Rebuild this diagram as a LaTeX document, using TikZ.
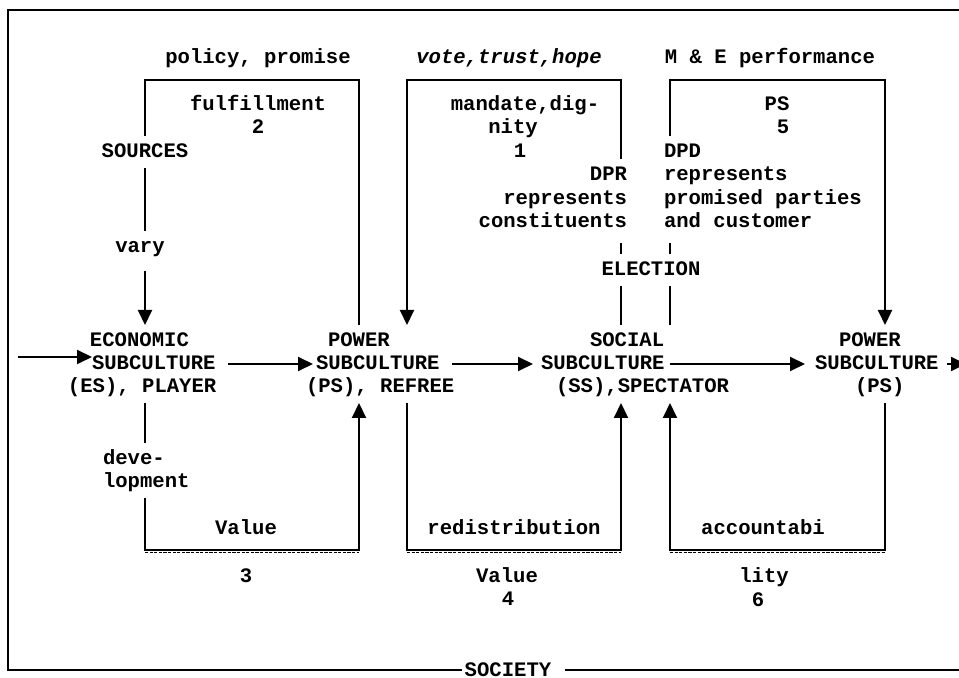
\documentclass[tikz,border=0pt]{standalone}
\usepackage{fontspec}
\setmonofont{Liberation Mono}
\usetikzlibrary{arrows.meta}
\begin{document}
\begin{tikzpicture}[x=0.5pt,y=-0.5pt,
  line width=1pt,
  txt/.style={inner sep=0pt, outer xsep=0pt, outer ysep=5pt,
    text height=6pt, text depth=0pt,
    font=\ttfamily\bfseries\fontsize{10.3}{12}\selectfont},
  itxt/.style={txt, font=\ttfamily\bfseries\itshape\fontsize{10.3}{12}\selectfont},
  flow/.style={-{Triangle[length=7.5pt,width=7pt]}},
  under/.style={line width=0.5pt, dash pattern=on 1.6pt off 0.7pt}]
\useasboundingbox (0,0) rectangle (959,678);
\fill[white] (0,0) rectangle (959,678);

% ---- top labels
\node[txt]  (pol) at (258,58) {policy, promise};
\node[itxt] (vth) at (509,58) {vote,trust,hope};
\node[txt]  (me)  at (770,58) {M \& E performance};

\node[txt] (ful) at (258,105) {fulfillment};
\node[txt] (n2)  at (258,128) {2};
\node[txt] (src) at (145,152) {SOURCES};
\node[txt] (vary) at (140,247) {vary};

\node[txt] (man)  at (525,105) {mandate,dig-};
\node[txt] (nity) at (513,128) {nity};
\node[txt] (n1)   at (520,152) {1};

\node[txt] (psl) at (777,105) {PS};
\node[txt] (n5)  at (783,128) {5};

% ---- representation texts
\node[txt, anchor=east] (dpr1) at (627,175) {DPR};
\node[txt, anchor=east] (dpr2) at (627,199) {represents};
\node[txt, anchor=east] (dpr3) at (627,222) {constituents};

\node[txt, anchor=west] (dpd1) at (664,152) {DPD};
\node[txt, anchor=west] (dpd2) at (664,175) {represents};
\node[txt, anchor=west] (dpd3) at (664,199) {promised parties};
\node[txt, anchor=west] (dpd4) at (664,222) {and customer};

\node[txt] (elec) at (651,270) {ELECTION};

% ---- subcultures
\node[txt, anchor=west] (es1) at (90,341)  {ECONOMIC};
\node[txt, anchor=west] (es2) at (92,364)  {SUBCULTURE};
\node[txt, anchor=west] (es3) at (68,387)  {(ES), PLAYER};

\node[txt, anchor=west] (ps1a) at (328,341) {POWER};
\node[txt, anchor=west] (ps1b) at (316,364) {SUBCULTURE};
\node[txt, anchor=west] (ps1c) at (306,387) {(PS), REFREE};

\node[txt, anchor=west] (ss1) at (590,341) {SOCIAL};
\node[txt, anchor=west] (ss2) at (541,364) {SUBCULTURE};
\node[txt, anchor=west] (ss3) at (556,387) {(SS),SPECTATOR};

\node[txt, anchor=west] (ps2a) at (839,341) {POWER};
\node[txt, anchor=west] (ps2b) at (815,364) {SUBCULTURE};
\node[txt, anchor=west] (ps2c) at (855,387) {(PS)};

% ---- bottom labels
\node[txt, anchor=west] (dev1) at (103,459) {deve-};
\node[txt, anchor=west] (dev2) at (103,482) {lopment};

\node[txt] (val3) at (246,529) {Value};
\node[txt] (n3)   at (246,576) {3};
\node[txt] (red)  at (514,529) {redistribution};
\node[txt] (val4) at (507,576) {Value};
\node[txt] (n4)   at (508,599) {4};
\node[txt] (acc)  at (763,529) {accountabi};
\node[txt] (lity) at (764,576) {lity};
\node[txt] (n6)   at (758,600) {6};

\node[txt] (soc) at (508,670) {SOCIETY};

% ---- corner points of the loops
\coordinate (c2L) at (145,80); \coordinate (c2R) at (359,80);
\coordinate (c1L) at (407,80); \coordinate (c1R) at (621,80);
\coordinate (c5L) at (670,80); \coordinate (c5R) at (885,80);
\coordinate (c3L) at (145,550); \coordinate (c3R) at (359,550);
\coordinate (c4L) at (407,550); \coordinate (c4R) at (621,550);
\coordinate (c6L) at (670,550); \coordinate (c6R) at (885,550);

% loop 2: policy, promise
\draw (src.north -| c2L) -- (c2L) -- (c2R) -- (ps1a.north -| c2R);
\draw (src.south -| c2L) -- (vary.north -| c2L);
\draw[flow] ([yshift=-4pt]vary.south -| c2L) -- (es1.north -| c2L);

% loop 1: vote, trust, hope
\draw[flow] (dpr1.north -| c1R) -- (c1R) -- (c1L) -- (ps1a.north -| c1L);

% loop 5: M & E performance
\draw[flow] (dpd1.north -| c5L) -- (c5L) -- (c5R) -- (ps2a.north -| c5R);

% election links
\draw[shorten <=2.5pt] (dpr3.south -| c1R) -- (elec.north -| c1R);
\draw (elec.south -| c1R) -- (ss1.north -| c1R);
\draw[shorten <=2.5pt] (dpd4.south -| c5L) -- (elec.north -| c5L);
\draw (elec.south -| c5L) -- (ss1.north -| c5L);

% loop 3: development / value
\draw (es3.south -| c3L) -- (dev1.north -| c3L);
\draw[flow] (dev2.south -| c3L) -- (c3L) -- (c3R) -- (ps1c.south -| c3R);
\draw[under] ([yshift=-1.5pt]c3L) -- ([yshift=-1.5pt]c3R);

% loop 4: redistribution
\draw[flow] (ps1c.south -| c4L) -- (c4L) -- (c4R) -- (ss3.south -| c4R);
\draw[under] ([yshift=-1.5pt]c4L) -- ([yshift=-1.5pt]c4R);

% loop 6: accountability
\draw[flow] (ps2c.south -| c6R) -- (c6R) -- (c6L) -- (ss3.south -| c6L);
\draw[under] ([yshift=-1.5pt]c6L) -- ([yshift=-1.5pt]c6R);

% ---- main chain
\coordinate (inL) at (18,357);
\coordinate (outR) at (966,364);
\draw[flow] (inL) -- (inL -| es2.west);
\draw[flow, shorten <=6pt, shorten >=1.5pt] (es2.east) -- (ps1b.west);
\draw[flow, shorten <=6pt, shorten >=4pt] (ps1b.east) -- (ss2.west);
\draw[flow, shorten <=2.5pt, shorten >=5pt] (ss2.east) -- (ps2b.west);
\draw[flow, shorten <=4pt] (ps2b.east) -- (outR);

% ---- society frame
\coordinate (fTR) at (990,10); \coordinate (fTL) at (8,10);
\coordinate (fBL) at (8,670);  \coordinate (fBR) at (990,670);
\draw[shorten >=1.5pt] (fTR) -- (fTL) -- (fBL) -- (soc.west);
\draw[shorten <=7pt] (soc.east) -- (fBR);
\end{tikzpicture}
\end{document}
